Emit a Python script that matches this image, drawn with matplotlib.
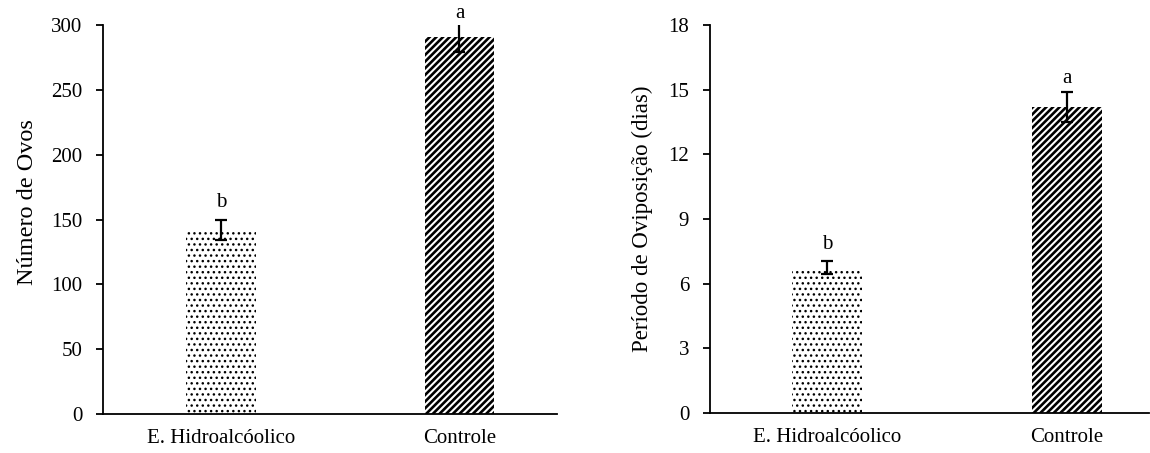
import matplotlib
matplotlib.use("Agg")
import matplotlib.pyplot as plt

plt.rcParams['font.family'] = ['Liberation Serif', 'DejaVu Serif']

categories = ["E. Hidroalcóolico", "Controle"]

ovos_mean = [142, 291]
ovos_err = [7.5, 12]
ovos_letters = ["b", "a"]
ovos_letter_y = [163, 309]
ovos_ticks = [0, 50, 100, 150, 200, 250, 300]

periodo_mean = [6.75, 14.2]
periodo_err = [0.3, 0.7]
periodo_letters = ["b", "a"]
periodo_letter_y = [7.8, 15.5]
periodo_ticks = [0, 3, 6, 9, 12, 15, 18]

hatches = ["...", "/////"]
hatch_lw = [1.0, 1.9]

fig = plt.figure(figsize=(11.5, 4.53), dpi=100)
ax1 = fig.add_axes([0.0896, 0.0861, 0.4843 - 0.0896, 0.9448 - 0.0861])
ax2 = fig.add_axes([0.6174, 0.0883, 0.9990 - 0.6174, 0.9448 - 0.0883])

def draw(ax, means, errs, letters, letter_y, ticks, ylabel, xlim, lpad, lsize, ly):
    x = list(range(len(categories)))
    for i in x:
        bars = ax.bar(i, means[i], width=0.29, color="white", edgecolor="black",
                      linewidth=0, hatch=hatches[i])
        for b in bars:
            try:
                b.set_hatch_linewidth(hatch_lw[i])
            except Exception:
                pass
    ax.errorbar(x, means, yerr=errs, fmt="none", ecolor="black",
                elinewidth=1.6, capsize=4.2, capthick=1.6)
    for i in x:
        ax.text(i, letter_y[i], letters[i], ha="center", va="center", fontsize=15)
    ax.set_xlim(*xlim)
    ax.set_ylim(ticks[0], ticks[-1])
    ax.set_yticks(ticks)
    ax.set_xticks(x)
    ax.set_xticklabels(categories)
    ax.set_ylabel(ylabel, fontsize=lsize, labelpad=lpad)
    ax.yaxis.label.set_y(ly)
    for s in ["top", "right"]:
        ax.spines[s].set_visible(False)
    for s in ["left", "bottom"]:
        ax.spines[s].set_linewidth(1.3)
    ax.tick_params(axis="y", direction="out", length=5, width=1.3, labelsize=15, pad=10)
    ax.tick_params(axis="x", length=0, labelsize=15, pad=11)

draw(ax1, ovos_mean, ovos_err, ovos_letters, ovos_letter_y, ovos_ticks,
     "Número de Ovos", (-0.495, 1.409), 9, 17.5, 0.545)
draw(ax2, periodo_mean, periodo_err, periodo_letters, periodo_letter_y, periodo_ticks,
     "Período de Oviposição (dias)", (-0.4855, 1.34), 11, 16.5, 0.5)

fig.savefig("out.png", dpi=100)
